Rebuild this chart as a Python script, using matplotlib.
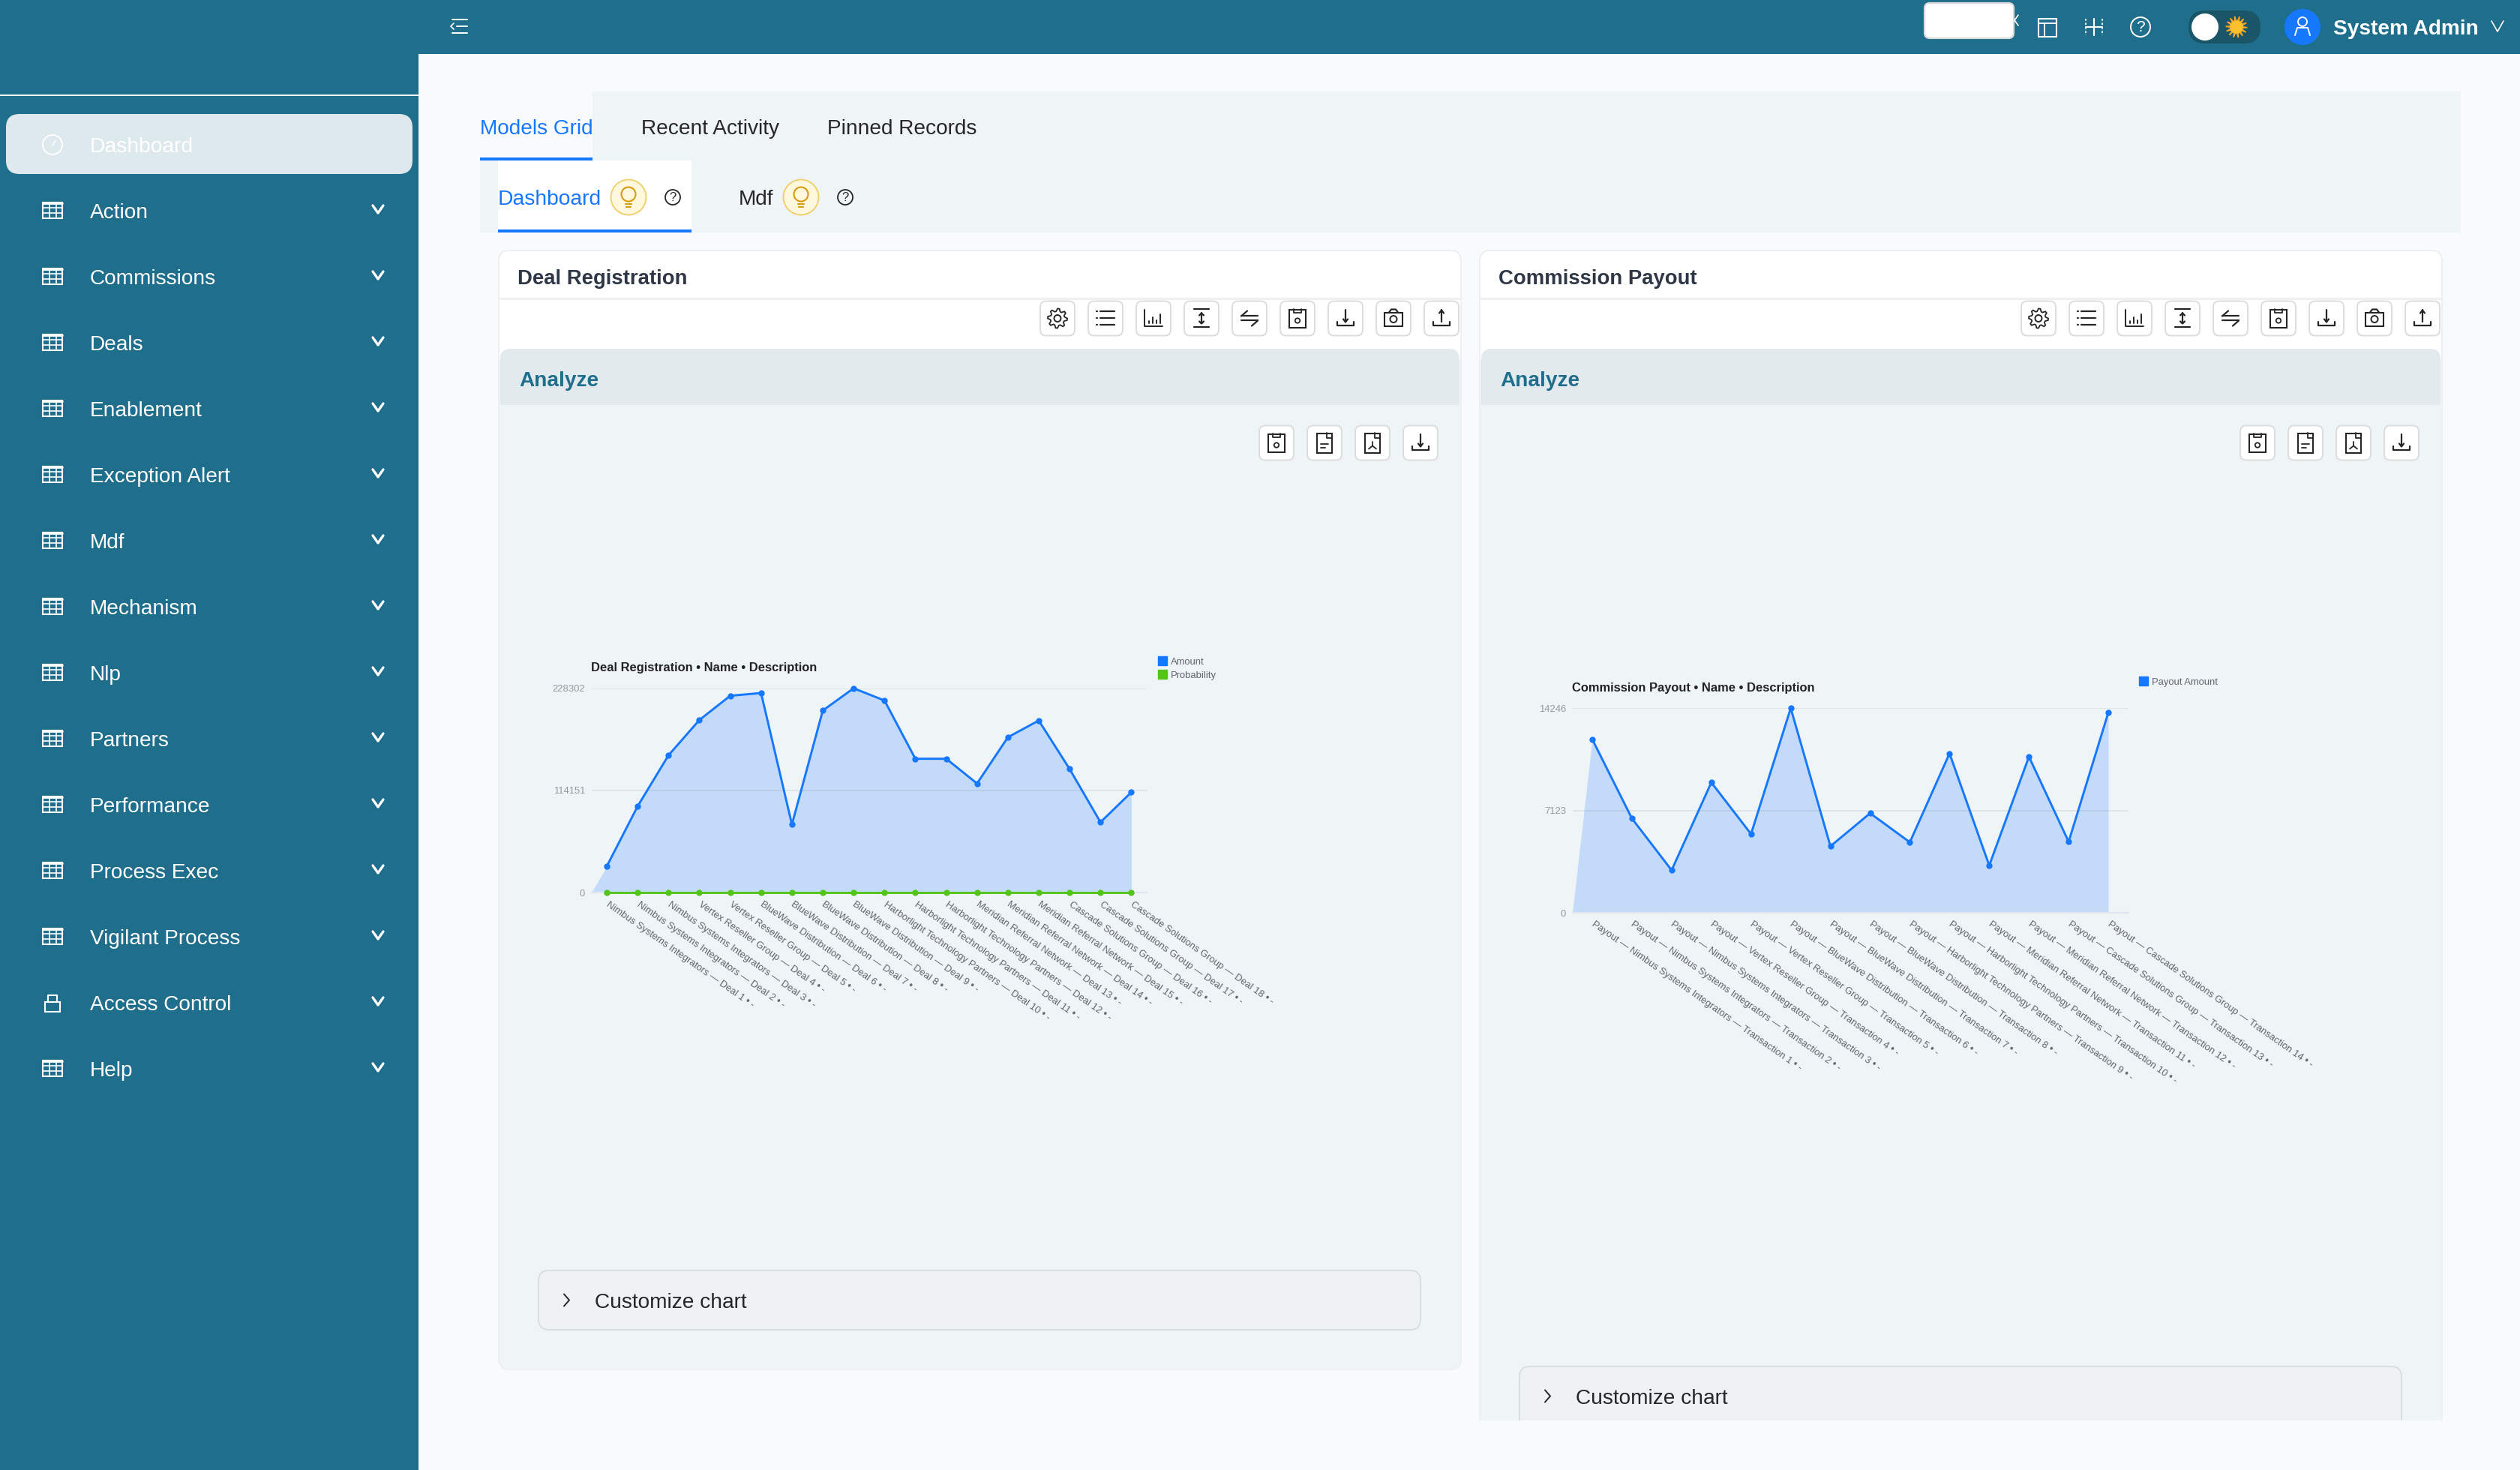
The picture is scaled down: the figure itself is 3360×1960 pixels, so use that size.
import numpy as np
import matplotlib
matplotlib.use('Agg')
import matplotlib.pyplot as plt
from matplotlib.lines import Line2D
from matplotlib.patches import Circle, FancyBboxPatch, Rectangle, Polygon

plt.rcParams['font.family'] = ['Liberation Sans', 'DejaVu Sans']

# data
menu_items = ['Action', 'Commissions', 'Deals', 'Enablement', 'Exception Alert', 'Mdf', 'Mechanism',
              'Nlp', 'Partners', 'Performance', 'Process Exec', 'Vigilant Process', 'Access Control', 'Help']

deal_labels = [
    'Nimbus Systems Integrators — Deal 1', 'Nimbus Systems Integrators — Deal 2',
    'Nimbus Systems Integrators — Deal 3', 'Vertex Reseller Group — Deal 4',
    'Vertex Reseller Group — Deal 5', 'BlueWave Distribution — Deal 6',
    'BlueWave Distribution — Deal 7', 'BlueWave Distribution — Deal 8',
    'BlueWave Distribution — Deal 9', 'Harborlight Technology Partners — Deal 10',
    'Harborlight Technology Partners — Deal 11', 'Harborlight Technology Partners — Deal 12',
    'Meridian Referral Network — Deal 13', 'Meridian Referral Network — Deal 14',
    'Meridian Referral Network — Deal 15', 'Cascade Solutions Group — Deal 16',
    'Cascade Solutions Group — Deal 17', 'Cascade Solutions Group — Deal 18',
]
deal_amount = [29580, 96570, 153500, 192860, 219930, 223000, 76190, 203460, 228302,
               214620, 149600, 149600, 121970, 173600, 192300, 138150, 78700, 112200]
deal_probability = [0, 0, 0, 0, 0, 0, 0, 0, 0, 0, 0, 0, 0, 0, 0, 0, 0, 0]
deal_ticks = [0, 114151, 228302]

payout_labels = [
    'Payout — Nimbus Systems Integrators — Transaction 1', 'Payout — Nimbus Systems Integrators — Transaction 2',
    'Payout — Nimbus Systems Integrators — Transaction 3', 'Payout — Vertex Reseller Group — Transaction 4',
    'Payout — Vertex Reseller Group — Transaction 5', 'Payout — BlueWave Distribution — Transaction 6',
    'Payout — BlueWave Distribution — Transaction 7', 'Payout — BlueWave Distribution — Transaction 8',
    'Payout — Harborlight Technology Partners — Transaction 9', 'Payout — Harborlight Technology Partners — Transaction 10',
    'Payout — Meridian Referral Network — Transaction 11', 'Payout — Meridian Referral Network — Transaction 12',
    'Payout — Cascade Solutions Group — Transaction 13', 'Payout — Cascade Solutions Group — Transaction 14',
]
payout_amount = [12086, 6566, 2961, 9073, 5486, 14246, 4632, 6931, 4911, 11094, 3291, 10867, 4946, 13950]
payout_ticks = [0, 7123, 14246]

TEAL = '#1F6E8C'
PAGE = '#F8FAFC'
PANEL = '#EFF4F7'
BLUE = '#1677FF'
GREEN = '#52C41A'
DARK = '#262626'
W, H = 3360, 1960

fig = plt.figure(figsize=(W / 100, H / 100), dpi=100, facecolor=PAGE)
ui = fig.add_axes([0, 0, 1, 1])
ui.set_xlim(0, W)
ui.set_ylim(H, 0)
ui.axis('off')


def rect(x0, y0, x1, y1, color, z=1):
    ui.add_patch(Rectangle((x0, y0), x1 - x0, y1 - y0, fc=color, ec='none', zorder=z))


def rbox(x0, y0, x1, y1, r, fc, ec='none', lw=0.0, z=1):
    ui.add_patch(FancyBboxPatch((x0 + r, y0 + r), x1 - x0 - 2 * r, y1 - y0 - 2 * r,
                                boxstyle=f'round,pad={r},rounding_size={r}', fc=fc, ec=ec, lw=lw, zorder=z))


def stroke(xs, ys, color=DARK, lw=1.6, z=5):
    ui.plot(xs, ys, color=color, lw=lw, zorder=z, solid_capstyle='round', solid_joinstyle='round')


def label(x, y, s, size=20.16, color=DARK, weight='normal', ha='left', z=6):
    ui.text(x, y, s, fontsize=size, color=color, fontweight=weight, ha=ha, va='center_baseline', zorder=z)


def spiky(x, y, teeth, r_out, r_in, fc, ec='none', lw=0.0, z=5):
    # star-like outline, used for the gear and for the sun
    angles = np.linspace(0, 2 * np.pi, teeth * 4, endpoint=False)
    radii = np.tile([r_out, r_out, r_in, r_in], teeth)
    ui.add_patch(Polygon(np.c_[x + radii * np.cos(angles), y + radii * np.sin(angles)],
                         closed=True, fc=fc, ec=ec, lw=lw, zorder=z))


def grid_icon(x, y, color='white'):
    ui.add_patch(Rectangle((x - 13, y - 11), 26, 21, fc='none', ec=color, lw=1.5, zorder=5))
    for dx in (-4.5, 4.5):
        stroke([x + dx, x + dx], [y - 11, y + 10], color, 1.2)
    for dy in (-4, 3):
        stroke([x - 13, x + 13], [y + dy, y + dy], color, 1.2)
    stroke([x - 13, x + 13], [y - 10, y - 10], color, 2)


def chevron(x, y, hw=7, hh=5, color='white', lw=2.4):
    stroke([x - hw, x, x + hw], [y - hh, y + hh, y - hh], color, lw)


def help_icon(x, y, r=10, color=DARK, lw=1.3, size=12):
    ui.add_patch(Circle((x, y), r, fc='none', ec=color, lw=lw, zorder=5))
    ui.text(x, y, '?', color=color, fontsize=size, ha='center', va='center', zorder=6)


def bulb(x, y):
    ui.add_patch(Circle((x, y), 23.5, fc='#FFF8DC', ec='#F0D070', lw=1.4, zorder=4))
    ui.add_patch(Circle((x, y - 4), 9.5, fc='none', ec='#D89A10', lw=1.5, zorder=5))
    stroke([x - 4, x + 4], [y + 9, y + 9], '#D89A10', 1.5)
    stroke([x - 3, x + 3], [y + 13, y + 13], '#D89A10', 1.5)


def icon_button(x, y):
    rbox(x - 23, y - 23, x + 23, y + 23, 8, 'white', '#DDDDDD', 1.4, z=4)


def box(x, y, w, h):
    ui.add_patch(Rectangle((x - w / 2, y - h / 2), w, h, fc='none', ec=DARK, lw=1.5, zorder=5))


def draw_icon(name, x, y):
    icon_button(x, y)
    if name == 'gear':
        spiky(x, y, 8, 13, 9.5, 'white', DARK, 1.3)
        ui.add_patch(Circle((x, y), 4.5, fc='white', ec=DARK, lw=1.4, zorder=6))
    elif name == 'list':
        for dy in (-9, 0, 9):
            stroke([x - 7, x + 12], [y + dy, y + dy])
            stroke([x - 12, x - 11], [y + dy, y + dy])
    elif name == 'bars':
        stroke([x - 12, x - 12, x + 12], [y - 11, y + 11, y + 11], lw=1.4)
        for dx, top in ((-6, 4), (-1, -1), (4, 3), (9, -5)):
            stroke([x + dx, x + dx], [y + 7, y + top], lw=1.4)
    elif name == 'height':
        stroke([x - 10, x + 10], [y - 12, y - 12])
        stroke([x - 10, x + 10], [y + 12, y + 12])
        stroke([x, x], [y - 7, y + 7])
        stroke([x - 3, x, x + 3], [y - 4, y - 7, y - 4])
        stroke([x - 3, x, x + 3], [y + 4, y + 7, y + 4])
    elif name == 'swap':
        stroke([x - 11, x + 11], [y - 3, y - 3])
        stroke([x - 11, x - 3], [y - 3, y - 10])
        stroke([x - 11, x + 11], [y + 3, y + 3])
        stroke([x + 11, x + 3], [y + 3, y + 10])
    elif name == 'save':
        box(x, y, 22, 24)
        ui.add_patch(Circle((x, y + 3), 3.2, fc='white', ec=DARK, lw=1.3, zorder=6))
        stroke([x - 5, x - 5, x + 5, x + 5], [y - 12, y - 7, y - 7, y - 12], lw=1.3)
    elif name in ('download', 'upload'):
        stroke([x - 11, x - 11, x + 11, x + 11], [y + 5, y + 10, y + 10, y + 5])
        tip = 5 if name == 'download' else -11
        root = -11 if name == 'download' else 5
        stroke([x, x], [y + root, y + tip])
        off = -4 if name == 'download' else 4
        stroke([x - 3, x, x + 3], [y + tip + off, y + tip, y + tip + off])
    elif name == 'camera':
        box(x, y + 1, 24, 18)
        stroke([x - 6, x - 3, x + 3, x + 6], [y - 8, y - 12, y - 12, y - 8])
        ui.add_patch(Circle((x, y + 1), 4.5, fc='white', ec=DARK, lw=1.4, zorder=6))
    elif name in ('doc', 'pdf'):
        box(x, y, 20, 26)
        stroke([x + 3, x + 3, x + 10], [y - 13, y - 6, y - 6], lw=1.3)
        if name == 'doc':
            stroke([x - 5, x + 5], [y + 2, y + 2], lw=1.3)
            stroke([x - 5, x + 1], [y + 7, y + 7], lw=1.3)
        else:
            stroke([x, x], [y - 1, y + 4], lw=1.3)
            stroke([x - 5, x, x + 5], [y + 8, y + 4, y + 8], lw=1.3)


# sidebar and top bar
rect(0, 0, 558, H, TEAL)
rect(558, 0, W, 72, TEAL)
rect(0, 126, 558, 128, 'white', z=2)
rbox(8, 152, 550, 232, 18, '#DEE9ED', z=2)
ui.add_patch(Circle((70, 193), 13, fc='none', ec='white', lw=1.4, zorder=5))
stroke([70, 74], [194, 187], 'white', 1.2)
label(120, 193, 'Dashboard', size=20.3, color='white')

for i, item in enumerate(menu_items):
    y = 281 + i * 88
    if item == 'Access Control':
        ui.add_patch(Rectangle((60, y - 1), 20, 13, fc='none', ec='white', lw=1.5, zorder=5))
        stroke([64, 64, 76, 76], [y - 1, y - 10, y - 10, y - 1], 'white', 1.5)
    else:
        grid_icon(70, y)
    label(120, y, item, color='white')
    chevron(504, y - 2)

# top bar, right side
for dy in (-9, 0, 9):
    stroke([603 if dy else 609, 623], [35 + dy, 35 + dy], 'white', 1.4)
stroke([605, 601, 605], [31, 35, 39], 'white', 1.2)
rbox(2566, 4, 2685, 51, 7, 'white', '#D9D9D9', 1.6, z=4)
stroke([2691, 2686, 2691], [20, 27, 34], 'white', 1.2)
ui.add_patch(Rectangle((2718, 25), 24, 24, fc='none', ec='white', lw=1.5, zorder=5))
stroke([2718, 2742], [31, 31], 'white', 1.3)
stroke([2726, 2726], [31, 49], 'white', 1.3)
stroke([2781, 2803], [36, 36], 'white', 1.5)
stroke([2792, 2792], [25, 47], 'white', 1.5)
for px_ in (2781, 2803):
    ui.plot([px_, px_], [25, 47], color='white', lw=1.3, ls=(0, (1.5, 1.5)), zorder=5)
help_icon(2854, 36, r=13, color='white', lw=1.4, size=15)
rbox(2918, 14, 3014, 58, 22, '#1B5568', z=4)
ui.add_patch(Circle((2940, 36), 18, fc='white', ec='none', zorder=5))
spiky(2982, 36, 14, 14.5, 9, '#F9A825')
ui.add_patch(Circle((2982, 36), 8.5, fc='#FBC02D', ec='none', zorder=6))
ui.add_patch(Circle((3070, 36), 24, fc=BLUE, ec='none', zorder=4))
ui.add_patch(Circle((3070, 29), 6, fc='none', ec='white', lw=1.4, zorder=5))
stroke([3060, 3063, 3077, 3080], [47, 37, 37, 47], 'white', 1.4)
label(3111, 36, 'System Admin', color='white', weight='bold')
chevron(3330, 35, hw=8, hh=7, lw=1.2)

# tab strip
rect(790, 122, 3281, 212, '#EFF4F6')
rect(640, 212, 3281, 310, '#EFF4F6')
rect(664, 214, 922, 310, 'white', z=2)
rect(640, 210, 790, 214, BLUE, z=3)
rect(664, 306, 922, 310, BLUE, z=3)
label(640, 169, 'Models Grid', color=BLUE)
label(855, 169, 'Recent Activity')
label(1103, 169, 'Pinned Records')
label(664, 263, 'Dashboard', size=20.3, color=BLUE, z=6)
bulb(838, 263)
help_icon(897, 263)
label(985, 263, 'Mdf')
bulb(1068, 263)
help_icon(1127, 263)

toolbar_icons = ['gear', 'list', 'bars', 'height', 'swap', 'save', 'download', 'camera', 'upload']
export_icons = ['save', 'doc', 'pdf', 'download']


def draw_card(x0, bottom, title, box_top, box_bottom):
    x1 = x0 + 1283
    rbox(x0, 334, x1, bottom, 14, PANEL, '#EDEFF1', 1.4, z=2)
    rbox(x0, 334, x1, 500, 14, 'white', '#EDEFF1', 1.4, z=2)
    rect(x0 + 1, 480, x1 - 1, 560, PANEL, z=2)
    rect(x0 + 1, 397, x1 - 1, 400, '#F0F0F0', z=3)
    rbox(x0 + 2, 465, x1 - 2, 560, 14, '#E2EAEE', z=3)
    rect(x0 + 2, 540, x1 - 2, 562, PANEL, z=3)
    label(x0 + 25, 369, title, size=19.8, color='#2F3645', weight='bold')
    label(x0 + 27, 505, 'Analyze', color=TEAL, weight='bold')
    for i, name in enumerate(toolbar_icons):
        draw_icon(name, x0 + 745 + i * 64, 424.5)
    for i, name in enumerate(export_icons):
        draw_icon(name, x0 + 1037 + i * 64, 590.5)
    rbox(x0 + 53, box_top, x0 + 1229, box_bottom, 14, '#EEF2F4', '#D9DEE1', 1.4, z=3)
    mid = (box_top + min(box_bottom, box_top + 79)) / 2
    stroke([x0 + 87, x0 + 94, x0 + 87], [mid - 8, mid, mid + 8], DARK, 1.4)
    label(x0 + 128, mid, 'Customize chart')


draw_card(665, 1826, 'Deal Registration', 1694, 1773)
draw_card(1973, 1940, 'Commission Payout', 1822, 1920)
rect(1960, 1894, W, H, PAGE, z=4)


def chart_axes(x0, x1, top, bottom, ticks, labels, title, tick_pad):
    ax = fig.add_axes([x0 / W, 1 - bottom / H, (x1 - x0) / W, (bottom - top) / H])
    ax.patch.set_alpha(0)
    ax.set_xlim(-0.5, len(labels) - 0.5)
    ax.set_ylim(ticks[0], ticks[-1])
    for name in ('top', 'left', 'right'):
        ax.spines[name].set_visible(False)
    ax.spines['bottom'].set_color('#E0E6F1')
    ax.spines['bottom'].set_linewidth(1.6)
    ax.set_yticks(ticks)
    ax.set_yticklabels([str(t) for t in ticks], fontsize=9.4, color='#96999E')
    ax.set_xticks(range(len(labels)))
    ax.set_xticklabels([s + ' • -' for s in labels], fontsize=9.4, color='#62656D',
                       rotation=-35, ha='left', va='center', rotation_mode='anchor')
    ax.tick_params(axis='y', length=0, pad=6)
    ax.tick_params(axis='x', length=0, pad=tick_pad)
    ax.yaxis.grid(True, color='#DFE3E6', lw=1.3)
    ax.set_axisbelow(True)
    ax.set_title(title, loc='left', fontsize=11.9, fontweight='bold', color='#222222', pad=16)
    return ax


def area_series(ax, values, color, alpha):
    xs = list(range(len(values)))
    ax.fill_between([-0.5] + xs, [0] + values, 0, color=color, alpha=alpha, lw=0, zorder=2)
    ax.plot(xs, values, color=color, lw=2.1, marker='o', ms=5, clip_on=False, zorder=3)


def swatch(color, text):
    return Line2D([], [], color=color, lw=0, marker='s', ms=8.6, label=text)


deal_ax = chart_axes(788.5, 1529, 917.7, 1190.3, deal_ticks, deal_labels,
                     'Deal Registration • Name • Description', 10.5)
area_series(deal_ax, deal_amount, BLUE, 0.2)
area_series(deal_ax, deal_probability, GREEN, 0.3)
deal_ax.legend(handles=[swatch(BLUE, 'Amount'), swatch(GREEN, 'Probability')], loc='upper left',
               bbox_to_anchor=(1538, 870), bbox_transform=ui.transData, frameon=False, fontsize=9.4,
               labelcolor='#62656D', handlelength=0.9, handletextpad=0.35, labelspacing=0.45, borderpad=0)

payout_ax = chart_axes(2096.5, 2837.6, 944.3, 1217, payout_ticks, payout_labels,
                       'Commission Payout • Name • Description', 10.5)
area_series(payout_ax, payout_amount, BLUE, 0.2)
payout_ax.legend(handles=[swatch(BLUE, 'Payout Amount')], loc='upper left',
                 bbox_to_anchor=(2846, 897), bbox_transform=ui.transData, frameon=False, fontsize=9.4,
                 labelcolor='#62656D', handlelength=0.9, handletextpad=0.35, borderpad=0)

fig.savefig('out.png', dpi=100, facecolor=PAGE)
